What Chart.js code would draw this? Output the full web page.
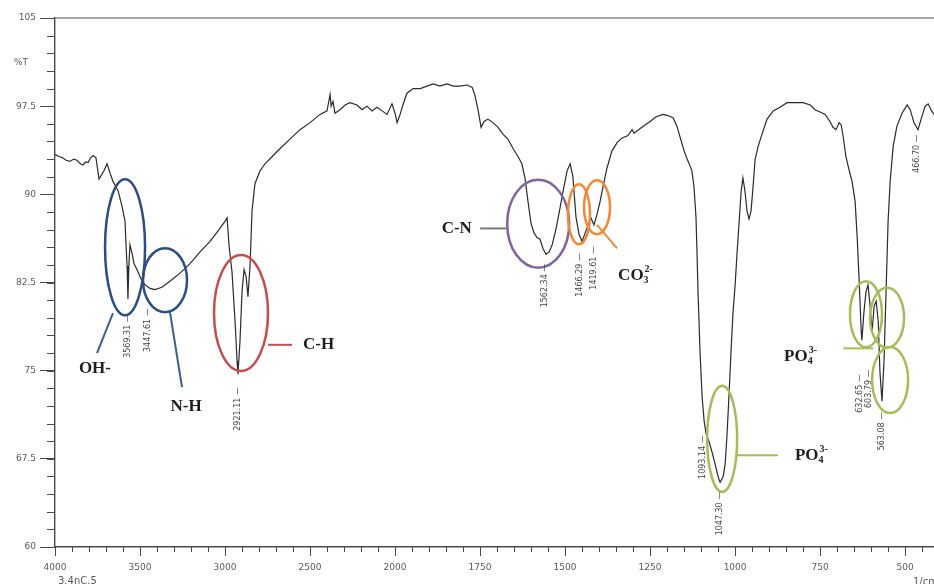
<!DOCTYPE html>
<html>
<head>
<meta charset="utf-8">
<script src="https://cdn.jsdelivr.net/npm/chart.js@4.4.1/dist/chart.umd.min.js"></script>
<style>
  html, body { margin: 0; padding: 0; background: #fff; }
  #wrap { width: 934px; height: 584px; }
</style>
</head>
<body>
<div id="wrap"><canvas id="ftirChart"></canvas></div>
<script>
// spectrum (wavenumber in 1/cm, transmittance in %T)
const wavenumbers = [
  4000, 3975, 3959, 3935, 3912, 3890, 3871, 3850, 3835, 3820, 3806, 3790, 3776, 3759, 3741, 3712,
  3694, 3676, 3659, 3629, 3606, 3588, 3582, 3576, 3571, 3565, 3559, 3547, 3535, 3518, 3494, 3471,
  3441, 3412, 3371, 3324, 3265, 3206, 3147, 3088, 3041, 3000, 2988, 2976, 2959, 2941, 2929, 2924,
  2912, 2900, 2888, 2876, 2865, 2853, 2841, 2824, 2794, 2765, 2724, 2676, 2618, 2559, 2500, 2441,
  2400, 2382, 2376, 2365, 2353, 2324, 2294, 2265, 2224, 2194, 2165, 2135, 2106, 2076, 2047, 2018,
  2000, 1994, 1985, 1977, 1965, 1947, 1926, 1906, 1888, 1868, 1847, 1829, 1809, 1788, 1773, 1765,
  1756, 1747, 1738, 1727, 1712, 1697, 1682, 1668, 1653, 1638, 1627, 1618, 1609, 1600, 1591, 1582,
  1574, 1565, 1556, 1547, 1538, 1527, 1515, 1503, 1494, 1485, 1477, 1468, 1459, 1450, 1441, 1432,
  1424, 1415, 1406, 1397, 1388, 1377, 1362, 1347, 1332, 1315, 1303, 1297, 1279, 1265, 1250, 1232,
  1212, 1197, 1182, 1171, 1162, 1150, 1141, 1132, 1127, 1121, 1115, 1112, 1109, 1103, 1097, 1091,
  1085, 1077, 1068, 1059, 1050, 1044, 1035, 1029, 1024, 1018, 1012, 1006, 1000, 994, 988, 982,
  977, 971, 965, 959, 953, 947, 941, 932, 921, 906, 888, 868, 847, 824, 800, 779,
  765, 750, 735, 721, 712, 703, 694, 688, 682, 674, 665, 656, 647, 641, 635, 629,
  627, 621, 615, 609, 603, 597, 591, 585, 579, 574, 568, 562, 556, 550, 544, 535,
  524, 509, 494, 485, 474, 462, 453, 441, 432, 424, 415
];
const transmittance = [
  93.4, 93.2, 93.15, 92.9, 92.8, 93.0, 92.9, 92.6, 92.5, 92.75, 92.7, 93.1, 93.3, 93.1, 91.3, 92.0,
  92.6, 91.8, 91.1, 90.3, 89.0, 87.7, 85.6, 83.9, 81.1, 84.1, 85.7, 85.0, 84.1, 83.6, 82.8, 82.3,
  82.0, 81.9, 82.1, 82.6, 83.3, 84.1, 85.1, 86.0, 86.9, 87.7, 88.0, 85.6, 83.4, 79.2, 75.8, 74.7,
  77.5, 81.7, 83.6, 83.0, 81.3, 83.9, 88.6, 90.9, 92.0, 92.6, 93.2, 93.9, 94.7, 95.5, 96.1, 96.8,
  97.1, 98.5, 97.5, 97.9, 96.9, 97.2, 97.6, 97.8, 97.6, 97.2, 97.5, 97.1, 97.4, 97.1, 96.8, 97.7,
  96.9, 96.1, 96.8, 97.6, 98.6, 99.0, 99.0, 99.2, 99.4, 99.2, 99.4, 99.2, 99.2, 99.3, 99.1, 98.4,
  97.2, 95.7, 96.2, 96.4, 96.1, 95.7, 95.1, 94.7, 93.9, 93.2, 92.6, 91.4, 89.4, 87.5, 86.7, 86.3,
  86.2, 85.4, 84.9, 85.1, 85.7, 87.0, 88.8, 90.7, 92.0, 92.6, 91.5, 88.1, 86.6, 86.0, 86.7, 87.4,
  88.0, 87.4, 88.3, 89.4, 90.7, 92.2, 93.7, 94.4, 94.8, 95.0, 95.5, 95.2, 95.6, 95.9, 96.2, 96.6,
  96.8, 96.7, 96.5, 95.8, 94.9, 93.7, 93.0, 92.4, 92.0, 90.7, 88.1, 85.1, 81.7, 76.6, 72.8, 70.7,
  69.6, 69.0, 68.1, 67.1, 66.0, 65.5, 66.0, 67.1, 69.4, 72.8, 76.6, 80.0, 82.2, 85.1, 87.7, 90.3,
  91.4, 90.3, 88.6, 87.9, 88.6, 90.7, 93.0, 94.1, 95.1, 96.4, 97.1, 97.4, 97.8, 97.8, 97.8, 97.6,
  97.2, 97.0, 96.8, 96.2, 95.7, 95.5, 96.1, 95.9, 94.9, 93.2, 92.1, 91.1, 89.4, 86.4, 82.6, 78.3,
  77.6, 80.0, 81.7, 82.3, 80.5, 78.3, 80.5, 80.9, 79.2, 74.9, 72.4, 75.8, 81.7, 87.7, 91.1, 94.1,
  95.8, 96.9, 97.6, 97.2, 96.1, 95.5, 96.4, 97.5, 97.7, 97.2, 96.8
];

const xTickLabels = [4000, 3500, 3000, 2500, 2000, 1750, 1500, 1250, 1000, 750, 500];
const yTickLabels = [60, 67.5, 75, 82.5, 90, 97.5, 105];

const peakLabels = ["3569.31", "3447.61", "2921.11", "1562.34", "1466.29", "1419.61",
                    "1093.14", "1047.30", "632.65", "603.79", "563.08", "466.70"];
const peakWavenumbers = [3571, 3453, 2924, 1559, 1456, 1415, 1094, 1044, 632, 606, 568, 465];
const peakLabelTops = [79.8, 80.3, 73.6, 84.1, 85.0, 85.6, 69.5, 64.7, 74.7, 75.1, 71.5, 95.1];

const AXIS_COLOR = "#4a4a4a";
const TICK_TEXT = "#5a5a5a";
const LINE_COLOR = "#2b2b2b";
const COLORS = {
  blue: "#2d4e7e",
  blueLine: "#3b5f8a",
  red: "#c0504d",
  purple: "#8064a2",
  gray: "#7a7a7a",
  orange: "#f08a3a",
  green: "#a4bd5c",
};

// the instrument plots 4000-2000 at half the scale of 2000-400
function toP(w) {
  return w >= 2000 ? (4000 - w) / 2 : 3000 - w;
}

// circled bands, centres in (1/cm, %T)
const ellipses = [
  { w: 3588, t: 85.5, rx: 20, ry: 68, color: COLORS.blue },
  { w: 3353, t: 82.7, rx: 22, ry: 32, color: COLORS.blue },
  { w: 2906, t: 79.9, rx: 27, ry: 58, color: COLORS.red },
  { w: 1579, t: 87.5, rx: 31, ry: 44, color: COLORS.purple },
  { w: 1459, t: 88.3, rx: 11, ry: 30, color: COLORS.orange },
  { w: 1406, t: 88.9, rx: 13, ry: 27, color: COLORS.orange },
  { w: 1038, t: 69.2, rx: 15, ry: 53, color: COLORS.green },
  { w: 615, t: 79.8, rx: 16, ry: 33, color: COLORS.green },
  { w: 553, t: 79.5, rx: 17, ry: 30, color: COLORS.green },
  { w: 544, t: 74.2, rx: 18, ry: 33, color: COLORS.green },
];

const leaders = [
  { from: [3659, 79.9], to: [3753, 76.5], color: COLORS.blueLine },
  { from: [3324, 80.0], to: [3253, 73.6], color: COLORS.blueLine },
  { from: [2747, 77.2], to: [2606, 77.2], color: COLORS.red },
  { from: [1750, 87.1], to: [1671, 87.1], color: COLORS.gray },
  { from: [1406, 87.4], to: [1347, 85.4], color: COLORS.orange },
  { from: [994, 67.8], to: [874, 67.8], color: COLORS.green },
  { from: [682, 76.9], to: [594, 76.9], color: COLORS.green },
];

const groupLabels = [
  { base: "OH-", w: 3765, t: 75.2, align: "center" },
  { base: "N-H", w: 3229, t: 71.9, align: "center" },
  { base: "C-H", w: 2541, t: 77.2, align: "left" },
  { base: "C-N", w: 1774, t: 87.1, align: "right" },
  { base: "CO", sub: "3", sup: "2-", w: 1344, t: 83.1, align: "left" },
  { base: "PO", sub: "4", sup: "3-", w: 824, t: 67.8, align: "left" },
  { base: "PO", sub: "4", sup: "3-", w: 759, t: 76.2, align: "right" },
];

const points = wavenumbers.map((w, i) => ({ x: toP(w), y: transmittance[i] }));

function drawGroupLabel(ctx, lab, x, y) {
  const big = "bold 17px 'Liberation Serif', 'DejaVu Serif', serif";
  const small = "bold 10px 'Liberation Serif', 'DejaVu Serif', serif";
  ctx.font = big;
  const wb = ctx.measureText(lab.base).width;
  ctx.font = small;
  const ws = lab.sub ? Math.max(ctx.measureText(lab.sub).width, ctx.measureText(lab.sup).width) + 1 : 0;
  const total = wb + ws;
  let x0 = x;
  if (lab.align === "right") x0 = x - total;
  if (lab.align === "center") x0 = x - total / 2;
  ctx.fillStyle = "#1e1e1e";
  ctx.textAlign = "left";
  ctx.textBaseline = "middle";
  ctx.font = big;
  ctx.fillText(lab.base, x0, y);
  if (lab.sub) {
    ctx.font = small;
    ctx.fillText(lab.sub, x0 + wb, y + 5);
    ctx.fillText(lab.sup, x0 + wb + 1, y - 6);
  }
}

const decorations = {
  id: "decorations",
  afterDraw(chart) {
    const { ctx, chartArea, scales: { x, y } } = chart;
    const px = (w) => x.getPixelForValue(toP(w));
    const py = (t) => y.getPixelForValue(t);
    ctx.save();

    // top frame
    ctx.strokeStyle = "#8a8a8a";
    ctx.lineWidth = 1.5;
    ctx.beginPath();
    ctx.moveTo(chartArea.left, chartArea.top);
    ctx.lineTo(chartArea.right, chartArea.top);
    ctx.stroke();

    // minor ticks
    ctx.strokeStyle = AXIS_COLOR;
    ctx.lineWidth = 1;
    ctx.beginPath();
    for (let p = 0; p <= x.max; p += 50) {
      const xx = Math.round(x.getPixelForValue(p)) + 0.5;
      ctx.moveTo(xx, chartArea.bottom);
      ctx.lineTo(xx, chartArea.bottom + 5);
    }
    for (let t = 60; t <= 105.001; t += 1.5) {
      const yy = Math.round(y.getPixelForValue(t)) + 0.5;
      ctx.moveTo(chartArea.left - 8, yy);
      ctx.lineTo(chartArea.left, yy);
    }
    ctx.stroke();

    // circled bands
    ctx.lineWidth = 2.5;
    ellipses.forEach((e) => {
      ctx.strokeStyle = e.color;
      ctx.beginPath();
      ctx.ellipse(px(e.w), py(e.t), e.rx, e.ry, 0, 0, Math.PI * 2);
      ctx.stroke();
    });
    ctx.lineWidth = 2;
    leaders.forEach((l) => {
      ctx.strokeStyle = l.color;
      ctx.beginPath();
      ctx.moveTo(px(l.from[0]), py(l.from[1]));
      ctx.lineTo(px(l.to[0]), py(l.to[1]));
      ctx.stroke();
    });
    groupLabels.forEach((lab) => drawGroupLabel(ctx, lab, px(lab.w), py(lab.t)));

    // peak positions, written vertically under the peaks
    ctx.fillStyle = "#444";
    ctx.font = "8px 'DejaVu Sans', sans-serif";
    ctx.textBaseline = "middle";
    ctx.textAlign = "right";
    peakLabels.forEach((txt, i) => {
      ctx.save();
      ctx.translate(px(peakWavenumbers[i]), py(peakLabelTops[i]));
      ctx.rotate(-Math.PI / 2);
      ctx.fillText(txt + " \u2014", 0, 0);
      ctx.restore();
    });

    // axis captions
    ctx.fillStyle = TICK_TEXT;
    ctx.font = "9px 'DejaVu Sans', sans-serif";
    ctx.textAlign = "center";
    ctx.fillText("%T", 21, py(101.2));
    ctx.font = "10px 'DejaVu Sans', sans-serif";
    ctx.textAlign = "left";
    ctx.fillText("3.4nC.5", 58, 581);
    ctx.fillText("1/cm", chartArea.right - 21, 582);
    ctx.restore();
  },
};

new Chart(document.getElementById("ftirChart"), {
  type: "line",
  data: {
    datasets: [
      {
        label: "%T",
        data: points,
        borderColor: LINE_COLOR,
        borderWidth: 1.2,
        pointRadius: 0,
        tension: 0,
        fill: false,
      },
    ],
  },
  options: {
    responsive: true,
    maintainAspectRatio: false,
    animation: false,
    layout: { padding: { top: 18, left: 0, right: 0, bottom: 0 } },
    plugins: {
      legend: { display: false },
      tooltip: { enabled: false },
    },
    scales: {
      x: {
        type: "linear",
        min: 0,
        max: toP(415),
        afterBuildTicks: (scale) => {
          scale.ticks = xTickLabels.map((w) => ({ value: toP(w) }));
        },
        afterFit: (scale) => {
          scale.height = 37;
        },
        ticks: {
          callback: (v, i) => String(xTickLabels[i]),
          color: TICK_TEXT,
          font: { family: "DejaVu Sans", size: 9 },
          padding: 6,
          maxRotation: 0,
          autoSkip: false,
        },
        grid: { drawOnChartArea: false, tickLength: 9, tickColor: AXIS_COLOR },
        border: { color: AXIS_COLOR, width: 1.4 },
      },
      y: {
        min: 60,
        max: 105,
        afterBuildTicks: (scale) => {
          scale.ticks = yTickLabels.map((v) => ({ value: v }));
        },
        afterFit: (scale) => {
          scale.width = 55;
        },
        ticks: {
          callback: (v) => String(v),
          color: TICK_TEXT,
          font: { family: "DejaVu Sans", size: 9 },
          padding: 4,
        },
        grid: { drawOnChartArea: false, tickLength: 15, tickColor: AXIS_COLOR },
        border: { color: AXIS_COLOR, width: 1.4 },
      },
    },
  },
  plugins: [decorations],
});
</script>
</body>
</html>
